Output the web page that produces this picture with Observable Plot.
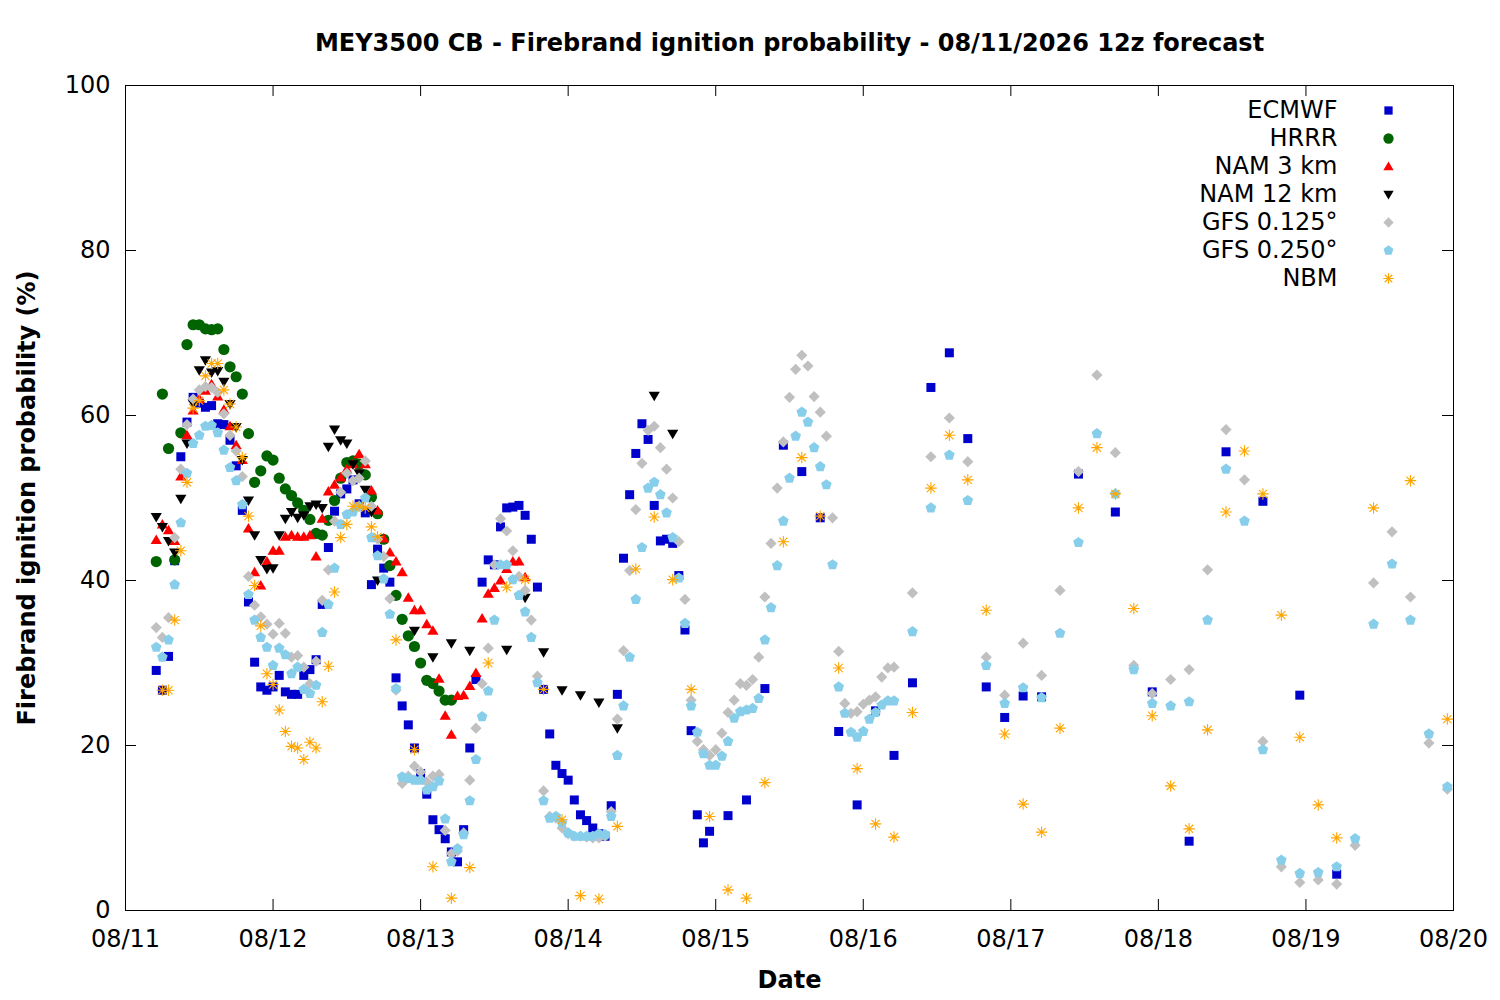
<!DOCTYPE html>
<html>
<head>
<meta charset="utf-8">
<script src="https://cdn.jsdelivr.net/npm/d3@7"></script>
<script src="https://cdn.jsdelivr.net/npm/@observablehq/plot@0.6"></script>
<style>
  html, body { margin: 0; padding: 0; background: #fff; }
  #chart { width: 1500px; height: 1000px; }
</style>
</head>
<body>
<div id="chart"></div>
<script>
// ---- DATA: [hour after 08/11 00:00, probability %] ----
const ecmwf = [[5,29.1],[6,26.7],[7,30.8],[8,42.4],[9,55.0],[10,59.2],[11,62.2],[12,61.5],[13,61.0],[14,61.2],[15,59.0],[16,58.9],[17,57.0],[18,53.9],[19,48.5],[20,37.4],[21,30.1],[22,27.1],[23,26.7],[24,27.1],[25,28.5],[26,26.5],[27,26.2],[28,26.2],[29,28.5],[30,29.2],[31,30.4],[32,37.1],[33,44.0],[34,48.4],[35,50.5],[36,51.1],[37,52.2],[38,49.3],[39,48.2],[40,39.5],[41,43.8],[42,41.5],[43,39.8],[44,28.2],[45,24.8],[46,22.5],[47,19.7],[48,16.6],[49,14.1],[50,11.0],[51,9.8],[52,8.7],[53,7.1],[54,5.9],[55,9.8],[56,19.7],[57,28.0],[58,39.8],[59,42.5],[60,41.9],[61,46.5],[62,48.8],[63,48.9],[64,49.1],[65,47.9],[66,45.0],[67,39.2],[68,26.8],[69,21.4],[70,17.6],[71,16.6],[72,15.8],[73,13.4],[74,11.6],[75,10.9],[76,10.0],[77,9.3],[78,9.0],[79,12.7],[80,26.2],[81,42.7],[82,50.4],[83,55.4],[84,59.0],[85,57.1],[86,49.1],[87,44.8],[88,45.0],[89,44.5],[90,40.6],[91,34.0],[92,21.8],[93,11.6],[94,8.2],[95,9.6],[98,11.5],[101,13.4],[104,26.9],[107,56.4],[110,53.2],[113,47.6],[116,21.7],[119,12.8],[122,24.2],[125,18.8],[128,27.6],[131,63.4],[134,67.6],[137,57.2],[140,27.1],[143,23.4],[146,26.0],[149,25.9],[155,52.9],[161,48.3],[167,26.5],[173,8.4],[179,55.6],[185,49.6],[191,26.1],[197,4.4]];

const hrrr = [[5,42.3],[6,62.6],[7,56.0],[8,42.5],[9,57.9],[10,68.6],[11,71.0],[12,71.0],[13,70.5],[14,70.4],[15,70.5],[16,68.0],[17,65.9],[18,64.7],[19,62.6],[20,57.8],[21,51.9],[22,53.3],[23,55.1],[24,54.6],[25,52.4],[26,51.1],[27,50.3],[28,49.4],[29,48.5],[30,47.4],[31,45.7],[32,45.5],[33,47.3],[34,49.7],[35,52.4],[36,54.3],[37,54.5],[38,54.1],[39,52.8],[40,50.1],[41,48.1],[42,45.0],[43,41.8],[44,38.2],[45,35.3],[46,33.3],[47,32.0],[48,30.0],[49,27.9],[50,27.5],[51,26.6],[52,25.5],[53,25.5]];

const nam3 = [[5,44.9],[6,46.8],[7,46.1],[8,44.8],[9,52.6],[10,57.6],[11,60.6],[12,62.0],[13,63.0],[14,63.8],[15,62.3],[16,60.7],[17,58.7],[18,56.4],[19,54.6],[20,46.3],[21,41.0],[22,39.4],[23,42.3],[24,43.6],[25,43.6],[26,45.3],[27,45.5],[28,45.3],[29,45.3],[30,45.5],[31,42.9],[32,47.5],[33,50.8],[34,51.6],[35,52.5],[36,53.5],[37,54.1],[38,55.3],[39,54.1],[40,50.9],[41,48.5],[42,45.1],[43,43.4],[44,42.3],[45,41.0],[46,37.9],[47,36.4],[48,36.4],[49,34.7],[50,33.9],[51,28.1],[52,23.6],[53,21.3],[54,26.0],[55,26.1],[56,27.2],[57,28.8],[58,35.4],[59,38.4],[60,39.1],[61,40.0],[62,41.4],[63,42.3],[64,42.3],[65,40.4]];

const nam12 = [[5,47.7],[6,46.5],[7,44.8],[8,43.4],[9,49.9],[10,56.6],[11,61.5],[12,65.5],[13,66.7],[14,65.2],[15,65.4],[16,64.1],[17,61.4],[18,58.6],[19,54.6],[20,49.7],[21,45.5],[22,42.5],[23,41.4],[24,41.5],[25,45.5],[26,47.5],[27,48.3],[28,47.6],[29,47.9],[30,49.0],[31,49.2],[32,48.8],[33,56.2],[34,58.3],[35,57.0],[36,56.6],[37,54.1],[38,53.0],[39,51.0],[40,48.3],[41,40.0],[47,33.9],[50,30.7],[53,32.4],[56,31.5],[62,31.6],[65,37.9],[68,31.3],[71,26.7],[74,26.1],[77,25.2],[80,22.1],[86,62.4],[89,57.8]];

const gfs125 = [[5,34.3],[6,33.1],[7,35.5],[8,45.2],[9,53.5],[10,58.9],[11,62.0],[12,63.1],[13,63.5],[14,63.4],[15,62.8],[16,60.2],[17,57.6],[18,55.7],[19,52.6],[20,40.5],[21,37.0],[22,35.6],[23,34.7],[24,33.5],[25,34.8],[26,33.6],[27,30.7],[28,30.9],[29,29.5],[30,27.5],[31,30.2],[32,37.6],[33,41.3],[34,47.2],[35,50.7],[36,53.0],[37,52.1],[38,52.4],[39,54.5],[40,49.0],[41,45.0],[42,42.9],[43,37.8],[44,26.7],[45,15.4],[46,16.3],[47,17.5],[48,16.8],[49,15.6],[50,16.3],[51,16.5],[52,9.7],[53,6.9],[54,7.2],[55,9.4],[56,15.8],[57,22.1],[58,27.5],[59,31.8],[60,41.9],[61,47.5],[62,46.0],[63,43.6],[64,40.5],[65,38.8],[66,35.2],[67,28.4],[68,14.5],[69,11.4],[70,11.2],[71,10.0],[72,9.3],[73,9.0],[74,9.0],[75,8.9],[76,8.8],[77,8.8],[78,9.0],[79,12.0],[80,23.2],[81,31.5],[82,41.2],[83,48.6],[84,54.2],[85,58.2],[86,58.7],[87,56.1],[88,53.5],[89,50.0],[90,44.7],[91,37.7],[92,25.5],[93,20.5],[94,19.5],[95,18.8],[96,19.5],[97,21.5],[98,24.0],[99,25.5],[100,27.5],[101,27.3],[102,28.0],[103,30.7],[104,38.0],[105,44.5],[106,51.2],[107,56.8],[108,62.2],[109,65.6],[110,67.3],[111,66.0],[112,62.3],[113,60.4],[114,57.5],[115,47.6],[116,31.4],[117,25.1],[118,23.9],[119,24.1],[120,25.0],[121,25.5],[122,25.9],[123,28.3],[124,29.4],[125,29.5],[128,38.5],[131,55.0],[134,59.7],[137,54.4],[140,30.7],[143,26.1],[146,32.4],[149,28.5],[152,38.8],[155,53.2],[158,64.9],[161,55.5],[164,29.7],[167,26.3],[170,28.0],[173,29.2],[176,41.3],[179,58.3],[182,52.2],[185,20.5],[188,5.3],[191,3.4],[194,3.7],[197,3.2],[200,7.9],[203,39.7],[206,45.9],[209,38.0],[212,20.3],[215,14.7]];

const gfs250 = [[5,31.9],[6,30.7],[7,32.8],[8,39.5],[9,47.0],[10,53.0],[11,56.6],[12,57.6],[13,58.7],[14,58.8],[15,57.9],[16,55.8],[17,53.7],[18,52.1],[19,49.2],[20,38.3],[21,35.2],[22,33.1],[23,31.9],[24,29.7],[25,31.8],[26,31.0],[27,28.7],[28,29.5],[29,26.8],[30,26.3],[31,27.3],[32,33.7],[33,37.1],[34,41.5],[35,46.8],[36,48.0],[37,48.3],[38,49.0],[39,50.0],[40,45.2],[41,43.0],[42,40.2],[43,35.9],[44,26.9],[45,16.2],[46,16.0],[47,15.8],[48,15.8],[49,14.6],[50,15.0],[51,15.7],[52,11.1],[53,5.9],[54,7.5],[55,9.2],[56,13.3],[57,18.3],[58,23.5],[59,26.6],[60,35.2],[61,41.9],[62,41.9],[63,40.1],[64,38.2],[65,36.2],[66,33.1],[67,27.6],[68,13.3],[69,11.2],[70,11.4],[71,10.6],[72,9.4],[73,9.0],[74,9.0],[75,9.0],[76,9.0],[77,9.3],[78,9.2],[79,11.4],[80,18.8],[81,24.8],[82,30.7],[83,37.7],[84,44.0],[85,51.2],[86,51.9],[87,50.4],[88,48.2],[89,45.2],[90,40.3],[91,34.8],[92,24.8],[93,21.6],[94,19.0],[95,17.6],[96,17.6],[97,18.7],[98,20.5],[99,23.3],[100,24.1],[101,24.3],[102,24.5],[103,25.7],[104,32.8],[105,36.7],[106,41.8],[107,47.2],[108,52.4],[109,57.5],[110,60.4],[111,59.2],[112,56.1],[113,53.8],[114,51.6],[115,41.9],[116,27.1],[117,23.9],[118,21.6],[119,21.0],[120,21.7],[121,23.2],[122,24.0],[123,24.9],[124,25.4],[125,25.4],[128,33.8],[131,48.8],[134,55.2],[137,49.7],[140,29.7],[143,25.1],[146,27.0],[149,25.8],[152,33.6],[155,44.6],[158,57.8],[161,50.5],[164,29.2],[167,25.1],[170,24.8],[173,25.3],[176,35.2],[179,53.5],[182,47.2],[185,19.5],[188,6.1],[191,4.5],[194,4.6],[197,5.3],[200,8.7],[203,34.7],[206,42.0],[209,35.2],[212,21.4],[215,15.0]];

const nbm = [[6,26.7],[7,26.7],[8,35.2],[9,43.6],[10,51.9],[11,60.9],[12,61.8],[13,64.8],[14,66.3],[15,66.3],[16,63.1],[17,61.4],[18,58.6],[19,54.9],[20,47.8],[21,39.4],[22,34.5],[23,28.7],[24,27.4],[25,24.3],[26,21.7],[27,19.9],[28,19.7],[29,18.3],[30,20.4],[31,19.7],[32,25.3],[33,29.6],[34,38.6],[35,45.2],[36,46.8],[37,49.0],[38,49.0],[39,48.8],[40,46.5],[41,45.3],[44,32.8],[47,19.5],[50,5.3],[53,1.5],[56,5.2],[59,30.0],[62,39.2],[65,40.1],[68,26.8],[71,11.0],[74,1.8],[77,1.4],[80,10.2],[83,41.4],[86,47.7],[89,40.1],[92,26.8],[95,11.4],[98,2.5],[101,1.5],[104,15.5],[107,44.7],[110,54.9],[113,47.8],[116,29.4],[119,17.2],[122,10.5],[125,8.9],[128,24.0],[131,51.2],[134,57.6],[137,52.2],[140,36.4],[143,21.4],[146,12.9],[149,9.5],[152,22.1],[155,48.8],[158,56.1],[161,50.5],[164,36.6],[167,23.6],[170,15.1],[173,9.9],[176,21.9],[179,48.3],[182,55.7],[185,50.5],[188,35.8],[191,21.0],[194,12.8],[197,8.8],[203,48.8],[209,52.1],[215,23.2]];

const seriesNames = ["ECMWF", "HRRR", "NAM 3 km", "NAM 12 km", "GFS 0.125°", "GFS 0.250°", "NBM"];
const seriesColors = ["#0000cc", "#006400", "#ff0000", "#000000", "#c0c0c0", "#87ceeb", "#ffa500"];
const yTicks = [0, 20, 40, 60, 80, 100];
const dayLabels = ["08/11","08/12","08/13","08/14","08/15","08/16","08/17","08/18","08/19","08/20"];
const titleText = "MEY3500 CB - Firebrand ignition probability - 08/11/2026 12z forecast";
const xLabel = "Date";
const yLabel = "Firebrand ignition probability (%)";

// ---- symbols ----
const R = (size) => Math.sqrt(size / Math.PI);
const symSquare = {draw(c, s) { const r = R(s) * 0.9; c.rect(-r, -r, 2 * r, 2 * r); }};
const symCircle = {draw(c, s) { const r = R(s) * 1.12; c.moveTo(r, 0); c.arc(0, 0, r, 0, 2 * Math.PI); c.closePath(); }};
const symTriUp = {draw(c, s) { const r = R(s); c.moveTo(0, -1.1 * r); c.lineTo(1.12 * r, 0.8 * r); c.lineTo(-1.12 * r, 0.8 * r); c.closePath(); }};
const symTriDown = {draw(c, s) { const r = R(s); c.moveTo(0, 1.1 * r); c.lineTo(1.12 * r, -0.8 * r); c.lineTo(-1.12 * r, -0.8 * r); c.closePath(); }};
const symDiamond = {draw(c, s) { const r = R(s) * 1.12; c.moveTo(0, -r); c.lineTo(r, 0); c.lineTo(0, r); c.lineTo(-r, 0); c.closePath(); }};
const symPentagon = {draw(c, s) { const r = R(s) * 1.12; for (let k = 0; k < 5; k++) { const a = -Math.PI / 2 + k * 2 * Math.PI / 5; const px = r * Math.cos(a), py = r * Math.sin(a); if (k === 0) c.moveTo(px, py); else c.lineTo(px, py); } c.closePath(); }};
const symAsterisk = {draw(c, s) { const r = R(s) * 1.15; const d = r * Math.SQRT1_2; c.moveTo(-r, 0); c.lineTo(r, 0); c.moveTo(0, -r); c.lineTo(0, r); c.moveTo(-d, -d); c.lineTo(d, d); c.moveTo(-d, d); c.lineTo(d, -d); }};
const symbols = [symSquare, symCircle, symTriUp, symTriDown, symDiamond, symPentagon, symAsterisk];

const base = Date.UTC(2026, 7, 11);
const toRows = (pairs) => pairs.map(([h, v]) => ({t: new Date(base + h * 3600000), v}));
const allData = [ecmwf, hrrr, nam3, nam12, gfs125, gfs250, nbm];
const dayTicks = dayLabels.map((_, i) => new Date(base + i * 86400000));

const W = 1500, H = 1000, mL = 125, mR = 47, mT = 85, mB = 90;
const fw = W - mL - mR, fh = H - mT - mB;
const FS = 24;

const marks = [];
marks.push(Plot.frame({stroke: "black", strokeWidth: 1}));
// inward ticks, mirrored on all four sides
marks.push(Plot.tickX(dayTicks, {x: d => d, insetTop: fh - 11, stroke: "black"}));
marks.push(Plot.tickX(dayTicks, {x: d => d, insetBottom: fh - 11, stroke: "black"}));
marks.push(Plot.tickY(yTicks, {y: d => d, insetRight: fw - 11, stroke: "black"}));
marks.push(Plot.tickY(yTicks, {y: d => d, insetLeft: fw - 11, stroke: "black"}));
marks.push(Plot.axisX({ticks: dayTicks, tickFormat: (d) => dayLabels[dayTicks.findIndex(t => +t === +d)], tickSize: 0, tickPadding: 19, label: null, fontSize: FS}));
marks.push(Plot.axisY({ticks: yTicks, tickSize: 0, tickPadding: 15, label: null, fontSize: FS}));

allData.forEach((pairs, i) => {
  const isStroke = i === 6;
  marks.push(Plot.dot(toRows(pairs), {
    x: "t", y: "v", r: 5, symbol: symbols[i],
    fill: isStroke ? "none" : seriesColors[i],
    stroke: isStroke ? seriesColors[i] : "none",
    strokeWidth: isStroke ? 1.1 : 0
  }));
});

// legend (inside top-right)
seriesNames.forEach((name, i) => {
  marks.push(Plot.text([name], {frameAnchor: "top-right", dx: -116, dy: 25 + 28 * i, textAnchor: "end", lineAnchor: "middle", fontSize: FS, fill: "black"}));
  const isStroke = i === 6;
  marks.push(Plot.dot([0], {frameAnchor: "top-right", dx: -65, dy: 25 + 28 * i, r: 4.6, symbol: symbols[i],
    fill: isStroke ? "none" : seriesColors[i], stroke: isStroke ? seriesColors[i] : "none", strokeWidth: isStroke ? 1.1 : 0}));
});

marks.push(Plot.text([titleText], {frameAnchor: "top", dy: -42, textAnchor: "middle", lineAnchor: "middle", fontWeight: "bold", fontSize: FS, fill: "black"}));
marks.push(Plot.text([xLabel], {frameAnchor: "bottom", dy: 70, textAnchor: "middle", lineAnchor: "middle", fontWeight: "bold", fontSize: FS, fill: "black"}));
marks.push(Plot.text([yLabel], {frameAnchor: "left", dx: -98, rotate: -90, textAnchor: "middle", lineAnchor: "middle", fontWeight: "bold", fontSize: FS, fill: "black"}));

const chart = Plot.plot({
  width: W, height: H,
  marginLeft: mL, marginRight: mR, marginTop: mT, marginBottom: mB,
  style: {fontFamily: "DejaVu Sans", fontSize: FS + "px", background: "white", color: "black", overflow: "visible"},
  x: {type: "utc", domain: [dayTicks[0], dayTicks[dayTicks.length - 1]], axis: null},
  y: {domain: [0, 100], axis: null},
  marks
});
document.getElementById("chart").appendChild(chart);
</script>
</body>
</html>
